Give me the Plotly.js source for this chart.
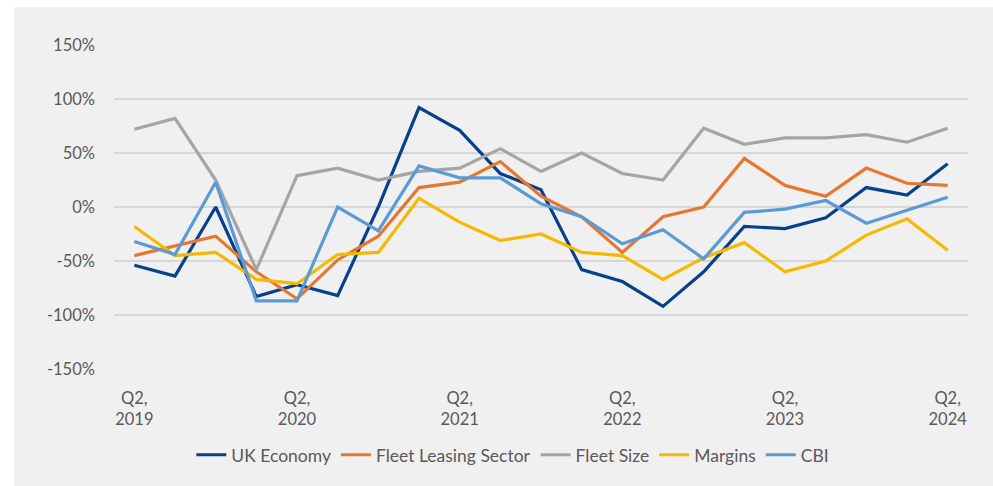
<!DOCTYPE html>
<html>
<head>
<meta charset="utf-8">
<script src="https://cdn.plot.ly/plotly-3.0.1.min.js"></script>
<style>html,body{margin:0;padding:0;background:#fff;}#chart{width:993px;height:486px;}</style>
</head>
<body>
<div id="chart"></div>
<script>
const quarters = ["Q2 2019","Q3 2019","Q4 2019","Q1 2020","Q2 2020","Q3 2020","Q4 2020","Q1 2021","Q2 2021","Q3 2021","Q4 2021","Q1 2022","Q2 2022","Q3 2022","Q4 2022","Q1 2023","Q2 2023","Q3 2023","Q4 2023","Q1 2024","Q2 2024"];
const tickQuarters = ["Q2 2019","Q2 2020","Q2 2021","Q2 2022","Q2 2023","Q2 2024"];
const tickLabels = ["Q2,<br>2019","Q2,<br>2020","Q2,<br>2021","Q2,<br>2022","Q2,<br>2023","Q2,<br>2024"];
const yTickVals = [-150,-100,-50,0,50,100,150];
const yTickLabels = ["-150%","-100%","-50%","0%","50%","100%","150%"];
const seriesNames = ["UK Economy","Fleet Leasing Sector","Fleet Size","Margins","CBI"];
const ukEconomy = [-54,-64,0,-83,-72,-82,0,92,71,31,16,-58,-69,-92,-60,-18,-20,-10,18,11,40];
const fleetLeasing = [-45,-36,-27,-60,-85,-49,-27,18,23,42,10,-9,-42,-9,0,45,20,10,36,22,20];
const fleetSize = [72,82,25,-58,29,36,25,33,36,54,33,50,31,25,73,58,64,64,67,60,73];
const margins = [-18,-45,-42,-67,-71,-44,-42,8,-14,-31,-25,-42,-45,-67,-47,-33,-60,-50,-26,-11,-40];
const cbi = [-32,-44,23,-87,-87,0,-22,38,27,27,3,-9,-34,-21,-48,-5,-2,6,-15,-3,9];
const colors = ["#06418a","#e5772e","#a5a5a5","#f7b900","#5b9bd5"];

const allSeries = [ukEconomy, fleetLeasing, fleetSize, margins, cbi];
const traces = allSeries.map((vals, i) => ({
  type: "scatter", mode: "lines", x: quarters, y: vals, name: seriesNames[i],
  line: {color: colors[i], width: 3.2}
}));

const layout = {
  width: 993, height: 486,
  margin: {l: 114, r: 25, t: 45, b: 117},
  paper_bgcolor: "#ffffff", plot_bgcolor: "rgba(0,0,0,0)",
  font: {family: "Lato, 'Open Sans', sans-serif", size: 16, color: "#595959"},
  xaxis: {
    type: "category", range: [-0.5, 20.5], tickmode: "array",
    tickvals: tickQuarters, ticktext: tickLabels, showgrid: false,
    zeroline: false, showline: false, ticks: "", ticklabelstandoff: 17,
    tickfont: {size: 16.5, color: "#595959"}, automargin: false
  },
  yaxis: {
    range: [-150, 150], tickmode: "array", tickvals: yTickVals, ticktext: yTickLabels,
    showgrid: true, gridcolor: "#d6d6d6", gridwidth: 1.3, zeroline: false,
    showline: false, ticks: "", ticklabelstandoff: 18,
    tickfont: {size: 16.5, color: "#595959"}, automargin: false
  },
  showlegend: true,
  legend: {orientation: "h", x: 0.467, xanchor: "center",
    y: -0.265, yanchor: "middle", font: {size: 17.5, color: "#595959"},
    bgcolor: "rgba(0,0,0,0)", itemwidth: 30},
  shapes: [{type: "rect", xref: "paper", yref: "paper", layer: "below",
    x0: -0.1171, x1: 1.04, y0: -0.4, y1: 1.1173, fillcolor: "#f0f0f0", line: {width: 0}}]
};
Plotly.newPlot("chart", traces, layout, {displayModeBar: false, staticPlot: true});
</script>
</body>
</html>
